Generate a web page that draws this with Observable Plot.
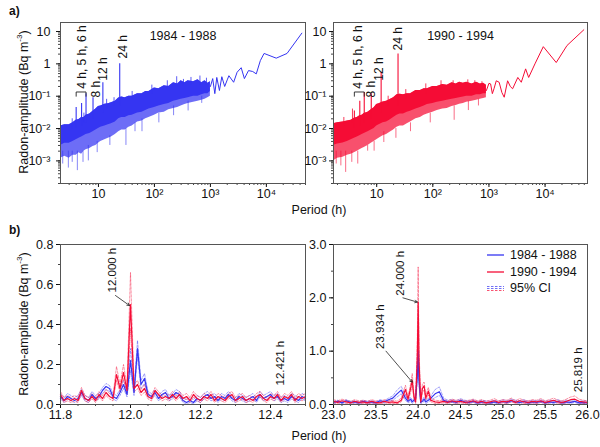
<!DOCTYPE html>
<html><head><meta charset="utf-8">
<script src="https://cdn.jsdelivr.net/npm/d3@7"></script>
<script src="https://cdn.jsdelivr.net/npm/@observablehq/plot@0.6"></script>
<style>
body{margin:0;background:#fff;font-family:"Liberation Sans",Arial,sans-serif;}
#fig{position:relative;width:600px;height:447px;overflow:hidden;background:#fff;}
.t{position:absolute;font-size:12px;color:#111;white-space:nowrap;}
</style></head><body><div id="fig"></div>
<script>
// ---------- colours ----------
const BLUE = "#3535f2", RED = "#f50c35";

// ---------- panel a) left: 1984 - 1988 ----------
const titleA = ["1984 - 1988"];
const bandP_A   = [2.1,2.5,3,3.5,4,4.5,5,5.5,6,7,8,9,10,11,13,15,17,20,23,26,30,35,40,50,60,70,80,100,120,150,180,220,260,300,350,400,500,600,700,800,900,1000];
const bandHi_A  = [.012,.013,.013,.015,.018,.019,.022,.022,.026,.028,.034,.04,.048,.05,.056,.058,.063,.07,.088,.095,.09,.1,.1,.12,.12,.14,.14,.18,.17,.21,.2,.26,.24,.3,.26,.3,.28,.32,.26,.3,.25,.28];
const bandMid_A = [.003,.0035,.0035,.004,.0045,.005,.0055,.006,.0065,.007,.008,.009,.01,.011,.012,.013,.014,.016,.02,.022,.022,.025,.026,.03,.032,.036,.04,.045,.05,.055,.06,.07,.075,.08,.085,.09,.1,.1,.11,.12,.12,.14];
const bandLo_A  = [.0012,.0014,.0012,.0015,.0015,.0018,.0016,.002,.0022,.0024,.0028,.003,.0035,.004,.0045,.005,.0055,.0065,.008,.009,.009,.011,.012,.016,.017,.02,.022,.026,.03,.032,.038,.042,.045,.05,.055,.06,.065,.07,.075,.08,.09,.1];
const dipP_A    = [2.3,2.9,3.4,4.2,5.3,6.6,9.5,16,31,45,60,120,220,400,700];
const dipTop_A  = [.002,.002,.002,.002,.002,.003,.004,.006,.01,.015,.02,.03,.05,.07,.1];
const dipLow_A  = [.0008,.0006,.0009,.0005,.0009,.001,.0018,.003,.003,.008,.008,.015,.025,.035,.06];
const upP_A     = [3.4,5.5,14,19,40,90,170,250,330,450,650,850];
const upBase_A  = [.01,.015,.04,.05,.08,.12,.15,.2,.2,.22,.22,.22];
const upTop_A   = [.02,.03,.08,.09,.14,.22,.3,.4,.33,.38,.42,.36];
const lineP_A   = [1000,1100,1200,1300,1450,1600,1800,2000,2140,2600,3000,3550,4050,4800,5700,6600,7800,9100,15000,23400,43000];
const lineV_A   = [.2,.35,.12,.38,.15,.4,.2,.32,.43,.27,.55,.76,.35,.62,.58,.49,1.26,2.1,1.5,2.1,8.9];
const spikeP    = [4,5,6,8,12,24];
const spikeBase_A = [.01,.012,.015,.02,.03,.05];
const spikeTop_A  = [.045,.06,.12,.09,.26,1.0];
const labText   = ["4 h, 5 h, 6 h","8 h","12 h","24 h"];
const labP_A    = [5.2,9.1,12.2,27.4];
const labV_A    = [.17,.091,.30,1.47];
const bracketP  = [4,4,6,6];
const bracketV  = [.1,.135,.135,.1];

// ---------- panel a) right: 1990 - 1994 ----------
const titleB = ["1990 - 1994"];
const bandP_B   = [1.7,2,2.5,3,3.5,4,4.5,5,5.5,6,7,8,9,10,11,13,15,17,20,23,26,30,35,40,50,60,70,80,100,120,150,180,220,260,300,350,400,500,600,700,800,900];
const bandHi_B  = [.014,.015,.016,.017,.018,.021,.022,.025,.026,.029,.032,.038,.044,.055,.058,.066,.07,.078,.09,.11,.115,.11,.12,.12,.15,.15,.17,.17,.2,.2,.23,.22,.26,.24,.27,.25,.27,.24,.27,.24,.25,.22];
const bandMid_B = [.003,.0033,.0036,.004,.0045,.005,.0055,.006,.0065,.007,.008,.009,.01,.012,.013,.015,.016,.018,.022,.026,.028,.028,.032,.034,.04,.045,.05,.055,.06,.065,.07,.075,.08,.085,.09,.095,.1,.1,.11,.11,.12,.12];
const bandLo_B  = [.001,.0012,.0013,.0015,.0016,.0018,.002,.0022,.0024,.0026,.003,.0035,.004,.0045,.005,.006,.0065,.0075,.009,.011,.012,.012,.014,.016,.02,.022,.026,.028,.032,.036,.04,.042,.048,.052,.056,.06,.065,.07,.075,.08,.085,.09];
const dipP_B    = [1.9,2.3,2.8,3.6,4.6,6.9,9,13.4,22,40,90,240,430,650];
const dipTop_B  = [.002,.002,.002,.002,.002,.003,.004,.008,.01,.015,.03,.05,.07,.08];
const dipLow_B  = [.0008,.0007,.00044,.0009,.0008,.002,.002,.0037,.005,.008,.015,.018,.036,.05];
const upP_B     = [2.6,3.7,16,33,75,140,230,420,560,750];
const upBase_B  = [.012,.015,.05,.08,.12,.15,.18,.18,.2,.2];
const upTop_B   = [.022,.04,.1,.16,.24,.3,.3,.32,.3,.28];
const lineP_B   = [900,1000,1070,1150,1230,1350,1520,1700,1870,2150,2400,2640,3270,3770,4500,5100,6600,9300,15800,24600,49000];
const lineV_B   = [.15,.25,.24,.12,.17,.3,.27,.13,.093,.3,.2,.17,.38,.27,.7,.38,1.0,3.4,1.1,3.7,11.3];
const spikeBase_B = [.01,.012,.015,.02,.03,.05];
const spikeTop_B  = [.035,.07,.13,.12,.55,2.0];
const labP_B    = [4.7,7.9,10.9,24.1];
const labV_B    = [.17,.091,.30,2.6];

// ---------- axes a) ----------
const xTopTicks = [10,100,1000,10000];
const xTopTickLabels = ["10","10²","10³","10⁴"];
const yTopTicks = [10,1,0.1,0.01,0.001];
const yTopTickLabels = ["10","1","10⁻¹","10⁻²","10⁻³"];

// ---------- panel b) left: around 12 h ----------
const pBL = [11.80,11.81,11.82,11.83,11.84,11.85,11.86,11.87,11.88,11.89,
 11.90,11.91,11.92,11.93,11.94,11.95,11.96,11.97,11.98,11.99,
 12.00,12.01,12.02,12.03,12.04,12.05,12.06,12.07,12.08,12.09,
 12.10,12.11,12.12,12.13,12.14,12.15,12.16,12.17,12.18,12.19,
 12.20,12.21,12.22,12.23,12.24,12.25,12.26,12.27,12.28,12.29,
 12.30,12.31,12.32,12.33,12.34,12.35,12.36,12.37,12.38,12.39,
 12.40,12.41,12.42,12.43,12.44,12.45,12.46,12.47,12.48,12.49,
 12.50];
const blueBL = [.04,.02,.04,.03,.02,.03,.06,.03,.02,.05,
 .03,.04,.07,.09,.08,.04,.03,.06,.10,.05,
 .22,.06,.28,.10,.13,.05,.04,.06,.03,.05,
 .06,.03,.04,.06,.05,.02,.01,.02,.01,.03,
 .02,.04,.05,.03,.04,.02,.04,.03,.05,.03,
 .02,.04,.03,.02,.03,.04,.02,.05,.03,.04,
 .05,.03,.04,.02,.03,.02,.04,.03,.02,.04,
 .03];
const blueHiBL = [.055,.035,.055,.045,.035,.045,.075,.045,.035,.065,
 .045,.055,.085,.105,.095,.055,.045,.075,.12,.065,
 .28,.075,.32,.12,.155,.065,.055,.075,.045,.065,
 .075,.045,.055,.075,.065,.035,.025,.035,.025,.045,
 .035,.055,.065,.045,.055,.035,.055,.045,.065,.045,
 .035,.055,.045,.035,.045,.055,.035,.065,.045,.055,
 .065,.045,.055,.035,.045,.035,.055,.045,.035,.055,
 .045];
const blueLoBL = [.028,.01,.028,.018,.01,.018,.045,.018,.01,.038,
 .018,.028,.055,.075,.065,.028,.018,.045,.08,.038,
 .17,.045,.24,.08,.105,.038,.028,.045,.018,.038,
 .045,.018,.028,.045,.038,.01,.004,.01,.004,.018,
 .01,.028,.038,.018,.028,.01,.028,.018,.038,.018,
 .01,.028,.018,.01,.018,.028,.01,.038,.018,.028,
 .038,.018,.028,.01,.018,.01,.028,.018,.01,.028,
 .018];
const redBL = [.05,.02,.03,.02,.03,.02,.07,.03,.02,.04,
 .02,.05,.03,.06,.04,.03,.15,.08,.16,.07,
 .50,.08,.10,.06,.08,.04,.03,.07,.05,.03,
 .04,.03,.05,.03,.05,.03,.04,.02,.05,.03,
 .02,.04,.03,.05,.02,.04,.03,.02,.04,.05,
 .02,.03,.04,.02,.03,.02,.04,.05,.03,.02,
 .04,.03,.05,.02,.04,.03,.05,.02,.04,.03,
 .04];
const redHiBL = [.065,.035,.045,.035,.045,.035,.085,.045,.035,.055,
 .035,.065,.045,.075,.055,.045,.19,.10,.20,.09,
 .66,.10,.12,.075,.10,.055,.045,.085,.065,.045,
 .055,.045,.065,.045,.065,.045,.055,.035,.065,.045,
 .035,.055,.045,.065,.035,.055,.045,.035,.055,.065,
 .035,.045,.055,.035,.045,.035,.055,.065,.045,.035,
 .055,.045,.065,.035,.055,.045,.065,.035,.055,.045,
 .055];
const redLoBL = [.038,.01,.018,.01,.018,.01,.055,.018,.01,.028,
 .01,.038,.018,.045,.028,.018,.12,.062,.13,.055,
 .38,.062,.08,.045,.062,.028,.018,.055,.038,.018,
 .028,.018,.038,.018,.038,.018,.028,.01,.038,.018,
 .01,.028,.018,.038,.01,.028,.018,.01,.028,.038,
 .01,.018,.028,.01,.018,.01,.028,.038,.018,.01,
 .028,.018,.038,.01,.028,.018,.038,.01,.028,.018,
 .028];
const annTextBL = ["12.000 h","12.421 h"];
const annPBL = [11.948,12.429];
const annVBL = [0.56,0.095];
const arrowBL = {x1:[11.957], y1:[0.545], x2:[11.997], y2:[0.495]};

// ---------- panel b) right: around 24 h ----------
const pBR = [23.00,23.05,23.10,23.15,23.20,23.25,23.30,23.35,23.40,23.45,23.50,23.55,23.60,23.65,23.70,
 23.75,23.80,23.85,23.88,23.91,23.93,23.95,23.97,23.99,24.00,24.01,24.03,24.05,24.07,24.09,24.12,24.15,24.20,24.25,24.30,
 24.35,24.40,24.45,24.50,24.55,24.60,24.65,24.70,24.75,24.80,24.85,24.90,24.95,25.00,25.05,25.10,25.15,25.20,25.25,25.30,
 25.35,25.40,25.45,25.50,25.55,25.60,25.65,25.70,25.75,25.80,25.85,25.90,25.95,26.00];
const blueBR = [.04,.06,.03,.07,.04,.05,.03,.06,.04,.05,.03,.07,.05,.09,.12,
 .20,.27,.12,.06,.10,.05,.08,.12,.55,1.00,.45,.04,.06,.10,.05,.08,.12,.20,.24,.08,
 .05,.06,.04,.08,.05,.04,.06,.03,.05,.04,.03,.05,.03,.06,.04,.07,.05,.04,.06,.03,
 .05,.04,.06,.03,.05,.04,.06,.03,.05,.04,.06,.03,.04,.03];
const blueHiBR = [.06,.08,.05,.09,.06,.07,.05,.08,.06,.07,.05,.09,.07,.12,.16,
 .27,.34,.17,.09,.14,.08,.11,.16,.7,1.07,.55,.07,.09,.14,.08,.11,.16,.28,.33,.12,
 .08,.09,.07,.11,.08,.07,.09,.06,.08,.07,.06,.08,.06,.09,.07,.1,.08,.07,.09,.06,
 .08,.07,.09,.06,.08,.07,.09,.06,.08,.07,.09,.06,.07,.06];
const blueLoBR = [.02,.04,.01,.05,.02,.03,.01,.04,.02,.03,.01,.05,.03,.06,.08,
 .14,.2,.08,.03,.06,.02,.05,.08,.42,.9,.35,.02,.03,.06,.02,.05,.08,.13,.17,.05,
 .03,.04,.02,.05,.03,.02,.04,.01,.03,.02,.01,.03,.01,.04,.02,.05,.03,.02,.04,.01,
 .03,.02,.04,.01,.03,.02,.04,.01,.03,.02,.04,.01,.02,.01];
const redBR = [.06,.04,.07,.05,.03,.06,.04,.05,.03,.06,.04,.03,.06,.04,.05,
 .03,.08,.28,.10,.30,.45,.15,.05,.90,1.92,.80,.05,.30,.35,.12,.25,.08,.05,.04,.06,
 .04,.07,.05,.06,.04,.05,.07,.04,.06,.03,.05,.07,.04,.06,.05,.08,.04,.07,.05,.04,
 .06,.05,.07,.04,.06,.08,.05,.04,.06,.09,.10,.06,.05,.04];
const redHiBR = [.09,.07,.1,.08,.06,.09,.07,.08,.06,.09,.07,.06,.09,.07,.08,
 .06,.12,.36,.14,.38,.58,.2,.08,1.2,2.58,1.05,.08,.38,.42,.17,.32,.12,.08,.07,.09,
 .07,.1,.08,.09,.07,.08,.1,.07,.09,.06,.08,.11,.07,.09,.08,.12,.07,.11,.08,.07,
 .09,.08,.11,.07,.09,.12,.08,.07,.1,.14,.16,.1,.08,.07];
const redLoBR = [.03,.02,.04,.02,.01,.03,.02,.02,.01,.03,.02,.01,.03,.02,.02,
 .01,.05,.2,.06,.22,.35,.1,.02,.6,1.4,.55,.02,.22,.27,.08,.18,.05,.02,.02,.03,
 .02,.04,.02,.03,.02,.02,.04,.02,.03,.01,.02,.04,.02,.03,.02,.05,.02,.04,.02,.02,
 .03,.02,.04,.02,.03,.05,.02,.02,.03,.05,.06,.03,.02,.02];
const annTextBR = ["24.000 h","23.934 h","25.819 h"];
const annPBR = [23.79,23.548,25.89];
const annVBR = [2.04,1.04,0.23];
const arrowBR = {x1:[23.82,23.62], y1:[2.0,1.0], x2:[23.99,23.93], y2:[1.92,0.42]};

// ---------- axes b) ----------
const xBLTicks = [11.8,12.0,12.2,12.4];
const yBLTicks = [0,0.2,0.4,0.6,0.8];
const xBRTicks = [23,23.5,24,24.5,25,25.5,26];
const yBRTicks = [0,1,2,3];
const legendLabels = ["1984 - 1988","1990 - 1994","95% CI"];

// ---------- build ----------
const fig = document.getElementById("fig");
const FONT = '"Liberation Sans", Arial, sans-serif';
const style = {fontFamily: FONT, fontSize: "12px", color: "#111", background: "transparent", overflow: "visible"};
const fmt1 = d3.format(".1f");
function place(svg, left, top) {
  svg.style.position = "absolute"; svg.style.left = left + "px"; svg.style.top = top + "px";
  fig.appendChild(svg);
}
function addText(html, css) {
  const d = document.createElement("div"); d.className = "t"; d.innerHTML = html;
  Object.assign(d.style, css); fig.appendChild(d); return d;
}
const zipRows = (keys, arrays) => arrays[0].map((_, i) => Object.fromEntries(keys.map((k, j) => [k, arrays[j][i]])));

function topPanel(o) {
  const band = zipRows(["p","lo","mid","hi"], [o.bandP, o.bandLo, o.bandMid, o.bandHi]);
  const dips = zipRows(["p","top","low"], [o.dipP, o.dipTop, o.dipLow]);
  const ups = zipRows(["p","base","top"], [o.upP, o.upBase, o.upTop]);
  const spikes = zipRows(["p","base","top"], [spikeP, o.spikeBase, o.spikeTop]);
  const line = zipRows(["p","v"], [o.lineP, o.lineV]);
  const labs = zipRows(["p","v","t"], [o.labP, o.labV, labText]);
  const bracket = zipRows(["p","v"], [bracketP, bracketV]);
  return Plot.plot({
    width: o.width, height: 215, marginLeft: o.ml, marginRight: o.mr, marginTop: 22, marginBottom: 32,
    style,
    x: {type: "log", domain: o.xDomain, label: null},
    y: {type: "log", domain: [2e-4, 19], label: null},
    marks: [
      Plot.areaY(band, {x: "p", y1: "lo", y2: "hi", fill: o.color, fillOpacity: 0.72}),
      Plot.areaY(band, {x: "p", y1: "mid", y2: "hi", fill: o.color, fillOpacity: 1}),
      Plot.ruleX(dips, {x: "p", y1: "top", y2: "low", stroke: o.color, strokeOpacity: 0.6, strokeWidth: 1}),
      Plot.ruleX(ups, {x: "p", y1: "base", y2: "top", stroke: o.color, strokeOpacity: 0.8, strokeWidth: 1}),
      Plot.ruleX(spikes, {x: "p", y1: "base", y2: "top", stroke: o.color, strokeWidth: 1.1}),
      Plot.line(line, {x: "p", y: "v", stroke: o.color, strokeWidth: 1}),
      Plot.line(bracket, {x: "p", y: "v", stroke: "#222", strokeWidth: 0.9}),
      Plot.text(labs, {x: "p", y: "v", text: "t", rotate: -90, textAnchor: "start", fontSize: 12, fill: "#111"}),
      Plot.text(o.title, {frameAnchor: "top", dy: 9, fontSize: 12.5, fill: "#111"}),
      Plot.axisX({ticks: 40, tickSize: 2, tickFormat: () => "", label: null, stroke: "#444"}),
      Plot.axisX(xTopTicks, {tickSize: 4, tickPadding: 2, tickFormat: d => xTopTickLabels[xTopTicks.indexOf(d)], label: null, fontSize: 12.5}),
      Plot.axisY({ticks: 40, tickSize: 2, tickFormat: () => "", label: null, stroke: "#444"}),
      Plot.axisY(yTopTicks, {tickSize: 4, tickPadding: o.ypad, tickFormat: d => yTopTickLabels[yTopTicks.indexOf(d)], label: null, fontSize: 12.5}),
      Plot.frame({stroke: "#555"})
    ]
  });
}

place(topPanel({width: 310, ml: 60, mr: 5, xDomain: [2.1, 50000], color: BLUE, title: titleA,
  bandP: bandP_A, bandLo: bandLo_A, bandMid: bandMid_A, bandHi: bandHi_A, dipP: dipP_A, dipTop: dipTop_A, dipLow: dipLow_A,
  upP: upP_A, upBase: upBase_A, upTop: upTop_A,
  spikeBase: spikeBase_A, spikeTop: spikeTop_A, lineP: lineP_A, lineV: lineV_A, labP: labP_A, labV: labV_A, ypad: 6}), 0, 0);
place(topPanel({width: 295, ml: 28, mr: 13, xDomain: [1.7, 57000], color: RED, title: titleB,
  bandP: bandP_B, bandLo: bandLo_B, bandMid: bandMid_B, bandHi: bandHi_B, dipP: dipP_B, dipTop: dipTop_B, dipLow: dipLow_B,
  upP: upP_B, upBase: upBase_B, upTop: upTop_B,
  spikeBase: spikeBase_B, spikeTop: spikeTop_B, lineP: lineP_B, lineV: lineV_B, labP: labP_B, labV: labV_B, ypad: 3}), 305, 0);

function bottomPanel(o) {
  const rows = zipRows(["p","b","bh","bl","r","rh","rl"], [o.p, o.b, o.bh, o.bl, o.r, o.rh, o.rl]);
  const ann = zipRows(["p","v","t"], [o.annP, o.annV, o.annT]);
  const arr = zipRows(["x1","y1","x2","y2"], [o.arrow.x1, o.arrow.y1, o.arrow.x2, o.arrow.y2]);
  const ci = (y, c) => Plot.line(rows, {x: "p", y, stroke: c, strokeOpacity: 0.45, strokeWidth: 1, strokeDasharray: "2.5,1.5"});
  return Plot.plot({
    width: o.width, height: 200, marginLeft: o.ml, marginRight: o.mr, marginTop: 19, marginBottom: 21,
    style,
    x: {domain: o.xDomain, label: null},
    y: {domain: o.yDomain, label: null},
    marks: [
      ci("bh", BLUE), ci("bl", BLUE), ci("rh", RED), ci("rl", RED),
      Plot.line(rows, {x: "p", y: "b", stroke: BLUE, strokeWidth: 1.2}),
      Plot.line(rows, {x: "p", y: "r", stroke: RED, strokeWidth: 1.2}),
      Plot.arrow(arr, {x1: "x1", y1: "y1", x2: "x2", y2: "y2", stroke: "#222", strokeWidth: 0.8, headLength: 5}),
      Plot.text(ann, {x: "p", y: "v", text: "t", rotate: -90, textAnchor: "start", fontSize: 11.5, fill: "#111"}),
      Plot.axisX({ticks: o.xMinor, tickSize: 2, tickFormat: () => "", label: null, stroke: "#444"}),
      Plot.axisX(o.xTicks, {tickSize: 4, tickPadding: 2, tickFormat: fmt1, label: null, fontSize: 12.5}),
      Plot.axisY({ticks: o.yMinor, tickSize: 2, tickFormat: () => "", label: null, stroke: "#444"}),
      Plot.axisY(o.yTicks, {tickSize: 4, tickPadding: 3, tickFormat: fmt1, label: null, fontSize: 12.5}),
      Plot.frame({stroke: "#555"})
    ]
  });
}

place(bottomPanel({width: 310, ml: 60, mr: 5, xDomain: [11.8, 12.5], yDomain: [0, 0.8],
  p: pBL, b: blueBL, bh: blueHiBL, bl: blueLoBL, r: redBL, rh: redHiBL, rl: redLoBL,
  annP: annPBL, annV: annVBL, annT: annTextBL, arrow: arrowBL,
  xTicks: xBLTicks, yTicks: yBLTicks, xMinor: 14, yMinor: 8}), 0, 225);
place(bottomPanel({width: 295, ml: 28, mr: 13, xDomain: [23, 26], yDomain: [0, 3],
  p: pBR, b: blueBR, bh: blueHiBR, bl: blueLoBR, r: redBR, rh: redHiBR, rl: redLoBR,
  annP: annPBR, annV: annVBR, annT: annTextBR, arrow: arrowBR,
  xTicks: xBRTicks, yTicks: yBRTicks, xMinor: 30, yMinor: 6}), 305, 225);

// ---------- static texts ----------
addText("a)", {left: "9px", top: "4px", fontWeight: "bold"});
addText("b)", {left: "9px", top: "223px", fontWeight: "bold"});
const yTitle = "Radon-amplitude (Bq m<sup style='font-size:8px'>-3</sup>)";
addText(yTitle, {left: "23px", top: "102px", fontSize: "12.5px", transform: "translate(-50%,-50%) rotate(-90deg)"});
addText(yTitle, {left: "23px", top: "324px", fontSize: "12.5px", transform: "translate(-50%,-50%) rotate(-90deg)"});
addText("Period (h)", {left: "319px", top: "210px", fontSize: "12.5px", transform: "translate(-50%,-50%)"});
addText("Period (h)", {left: "319px", top: "436px", fontSize: "12.5px", transform: "translate(-50%,-50%)"});

// ---------- legend ----------
const leg = document.createElement("div");
Object.assign(leg.style, {position: "absolute", left: "486px", top: "247px", fontSize: "12.5px", lineHeight: "16.5px", color: "#111"});
legendLabels.forEach((lab, i) => {
  const row = document.createElement("div");
  row.style.display = "flex"; row.style.alignItems = "center"; row.style.height = "16.5px";
  let sw;
  if (i < 2) {
    const c = i === 0 ? BLUE : RED;
    sw = `<svg width="20" height="10"><line x1="1" x2="18" y1="5" y2="5" stroke="${c}" stroke-width="1.3"/></svg>`;
  } else {
    sw = `<svg width="20" height="10"><line x1="1" x2="18" y1="3.5" y2="3.5" stroke="${BLUE}" stroke-opacity="0.7" stroke-dasharray="2.5,1.5"/><line x1="1" x2="18" y1="5.5" y2="5.5" stroke="${BLUE}" stroke-opacity="0.7" stroke-dasharray="2.5,1.5"/><line x1="1" x2="18" y1="7.5" y2="7.5" stroke="${RED}" stroke-opacity="0.7" stroke-dasharray="2.5,1.5"/></svg>`;
  }
  row.innerHTML = sw + `<span style="margin-left:4px">${lab}</span>`;
  leg.appendChild(row);
});
fig.appendChild(leg);
</script></body></html>
